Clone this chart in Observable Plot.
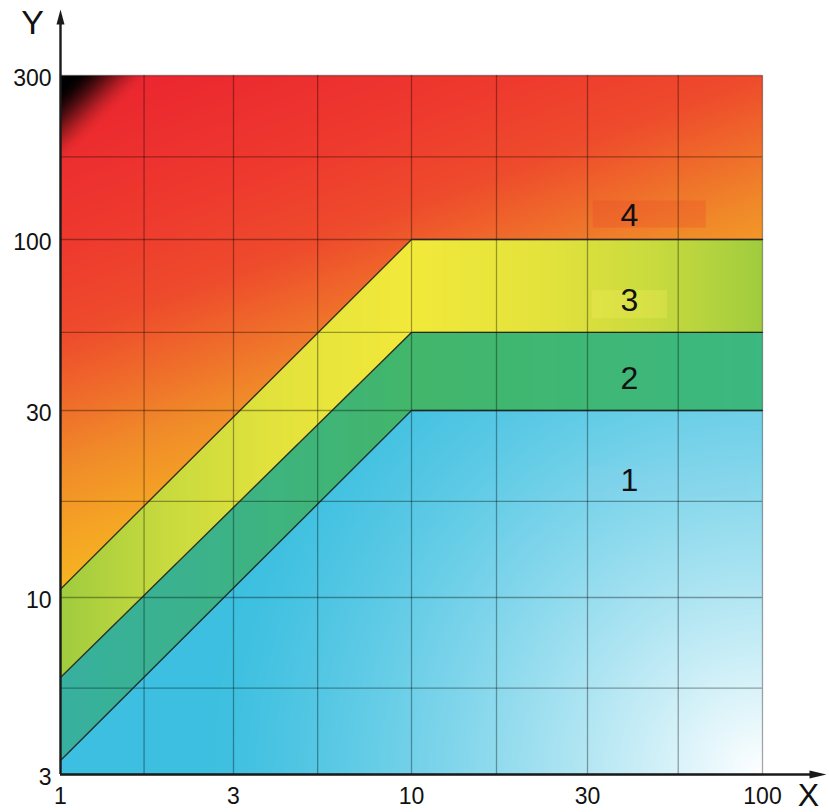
<!DOCTYPE html>
<html>
<head>
<meta charset="utf-8">
<script src="https://cdn.jsdelivr.net/npm/d3@7"></script>
<script src="https://cdn.jsdelivr.net/npm/@observablehq/plot@0.6"></script>
<style>
  html, body { margin: 0; padding: 0; background: #fff; }
</style>
</head>
<body>
<div id="chart"></div>
<script>
// Labelled axis values (log axes, half-decade steps)
const xTicks = [1, 3, 10, 30, 100];
const yTicks = [3, 10, 30, 100, 300];

// Grid lines (quarter-decade steps)
const xGrid = [1, 1.7, 3, 5.3, 10, 17, 30, 56, 100];
const yGrid = [3, 5.4, 10, 17.6, 30, 52, 100, 174, 300];

// Zone boundaries: breakpoints in X and the boundary Y at each breakpoint
const edgeX = [1, 10, 100];
const edge34 = [10.5, 100, 100];
const edge23 = [5.8, 52, 52];
const edge12 = [3.3, 30, 30];

// Zone numbers and where they are written
const zoneNames = ["4", "3", "2", "1"];
const zoneX = [40, 40, 40, 40];
const zoneY = [117, 65, 37.6, 19.9];

// ---- layout ----
const W = 829, H = 812;
const M = {left: 60, right: 67, top: 75, bottom: 38};
const X_RANGE = [60, 233, 411, 587, 762];
const Y_RANGE = [774, 597, 410, 239, 75];

// Same piecewise-log mapping as the plot scales, used for shading
const sx = d3.scaleLog().domain(xTicks).range(X_RANGE);
const sy = d3.scaleLog().domain(yTicks).range(Y_RANGE);

function edgePoints(ys) {
  return edgeX.map((x, i) => [sx(x), sy(ys[i])]);
}
const P34 = edgePoints(edge34), P23 = edgePoints(edge23), P12 = edgePoints(edge12);
function edgeAt(px, pts) {
  for (let i = 1; i < pts.length; i++) {
    if (px <= pts[i][0] || i === pts.length - 1) {
      const [x0, y0] = pts[i - 1], [x1, y1] = pts[i];
      return y0 + (y1 - y0) * (px - x0) / (x1 - x0);
    }
  }
}

const ramp4 = d3.scaleLinear()
  .domain([0, 0.3, 0.45, 0.67, 0.8, 1])
  .range(["#ea2230", "#ee3a2e", "#ee4b2c", "#f08a29", "#f5a524", "#f7c81c"])
  .clamp(true);
const ramp3 = d3.scaleLinear()
  .domain([0, 0.4, 0.7, 1])
  .range(["#f2e93a", "#e2e23c", "#c8da3e", "#a0cc3e"])
  .clamp(true);
const ramp2 = d3.scaleLinear()
  .domain([-1, 0, 1])
  .range(["#37b0a0", "#42b66a", "#3cb880"])
  .clamp(true);
const toWhite = d3.interpolateRgb("#3cbfe0", "#ffffff");
const toBlack = (c, k) => d3.interpolateRgb(c, "#000000")(k);

const x0 = X_RANGE[0], x1 = X_RANGE[X_RANGE.length - 1];
const yb = Y_RANGE[0], yt = Y_RANGE[Y_RANGE.length - 1];

function smooth(e0, e1, t) {
  const s = Math.max(0, Math.min(1, (t - e0) / (e1 - e0)));
  return s * s * (3 - 2 * s);
}

// Background colour of each zone at a data point
function shade(x, y) {
  const px = sx(x), py = sy(y);
  const u = (px - x0) / (x1 - x0);
  const v = (yb - py) / (yb - yt);
  if (py < edgeAt(px, P34)) {
    let c = ramp4(1.2 * (1 - v) + 0.45 * u);
    // dark shading into the top-left corner
    const r = (px - x0) + (py - yt);
    const k = 1 - smooth(12, 90, r);
    if (k > 0) c = toBlack(c, k);
    return c;
  }
  if (py < edgeAt(px, P23)) return ramp3(Math.abs(u - 0.5) * 2);
  if (py < edgeAt(px, P12)) return ramp2((u - 0.5) * 2);
  const d = Math.hypot(1 - u, v);
  const w = Math.pow(Math.max(0, 1 - d / 0.8), 1.3);
  return toWhite(w);
}

const edgeLine = (ys) => edgeX.map((x, i) => ({x, y: ys[i]}));
const zones = zoneNames.map((name, i) => ({name, x: zoneX[i], y: zoneY[i]}));

// Filled arrowheads for the axis ends
const arrowUp = {draw(ctx) { ctx.moveTo(0, -8); ctx.lineTo(4, 7); ctx.lineTo(-4, 7); ctx.closePath(); }};
const arrowRight = {draw(ctx) { ctx.moveTo(9, 0); ctx.lineTo(-8, 4); ctx.lineTo(-8, -4); ctx.closePath(); }};

const ink = "#1a1a1a";
const xMin = xTicks[0], xMax = xTicks[xTicks.length - 1];
const yMin = yTicks[0], yMax = yTicks[yTicks.length - 1];

// soft label patch behind a zone number
const patch = (i, insets, fill, opacity) =>
  Plot.rect([zones[i]], {x1: "x", x2: "x", y1: "y", y2: "y", ...insets, fill, fillOpacity: opacity});

const chart = Plot.plot({
  width: W, height: H,
  marginLeft: M.left, marginRight: M.right, marginTop: M.top, marginBottom: M.bottom,
  x: {type: "log", domain: xTicks, range: X_RANGE, axis: null},
  y: {type: "log", domain: yTicks, range: Y_RANGE, axis: null},
  color: {type: "identity"},
  style: {fontFamily: "'Liberation Sans', Arial, sans-serif", background: "#fff", color: "#111", overflow: "visible"},
  marks: [
    Plot.raster({fill: shade, x1: xMin, x2: xMax, y1: yMin, y2: yMax, pixelSize: 1}),
    patch(0, {insetLeft: -36, insetRight: -77, insetTop: -15, insetBottom: -12}, "#e8402a", 0.25),
    patch(1, {insetLeft: -37, insetRight: -38, insetTop: -10, insetBottom: -18}, "#f4ee5a", 0.3),
    patch(3, {insetLeft: -42, insetRight: -120, insetTop: -13, insetBottom: -17}, "#8ad4ea", 0.2),
    Plot.ruleX(xGrid, {stroke: "#000", strokeOpacity: 0.35, strokeWidth: 1.3}),
    Plot.ruleY(yGrid, {stroke: "#000", strokeOpacity: 0.35, strokeWidth: 1.3}),
    Plot.line(edgeLine(edge34), {x: "x", y: "y", stroke: ink, strokeOpacity: 0.85, strokeWidth: 1.4}),
    Plot.line(edgeLine(edge23), {x: "x", y: "y", stroke: ink, strokeOpacity: 0.85, strokeWidth: 1.4}),
    Plot.line(edgeLine(edge12), {x: "x", y: "y", stroke: ink, strokeOpacity: 0.85, strokeWidth: 1.4}),
    Plot.text(zones, {x: "x", y: "y", text: "name", fontSize: 32, fill: "#111"}),
    // axis lines with arrows
    Plot.ruleX([xMin], {stroke: ink, strokeWidth: 2.4, insetTop: -60}),
    Plot.ruleY([yMin], {stroke: ink, strokeWidth: 2.4, insetRight: -58}),
    Plot.dot([{x: xMin, y: yMax}], {x: "x", y: "y", dy: -58, symbol: arrowUp, fill: ink, stroke: "none"}),
    Plot.dot([{x: xMax, y: yMin}], {x: "x", y: "y", dx: 55, symbol: arrowRight, fill: ink, stroke: "none"}),
    Plot.axisX(xTicks, {tickSize: 0, tickPadding: 13, fontSize: 23, label: null, tickFormat: (d) => String(d)}),
    Plot.axisY(yTicks, {tickSize: 0, tickPadding: 9, fontSize: 23, label: null, dy: 3, tickFormat: (d) => String(d)}),
    Plot.text(["Y"], {frameAnchor: "top-left", textAnchor: "middle", lineAnchor: "middle", text: (d) => d, dx: -28, dy: -52, fontSize: 34, fill: "#111"}),
    Plot.text(["X"], {frameAnchor: "bottom-right", textAnchor: "middle", lineAnchor: "middle", text: (d) => d, dx: 46, dy: 21, fontSize: 32, fill: "#111"})
  ]
});

document.getElementById("chart").appendChild(chart);
</script>
</body>
</html>
